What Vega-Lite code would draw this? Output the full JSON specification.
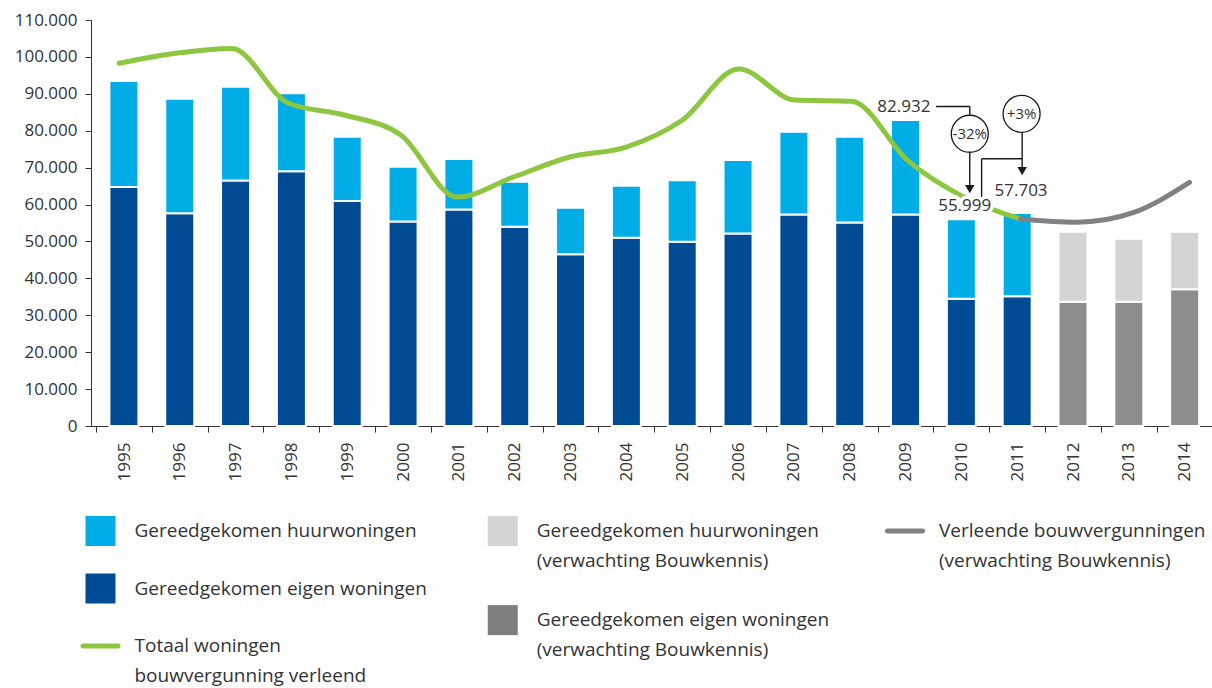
{
  "$schema": "https://vega.github.io/schema/vega-lite/v6.json",
  "width": 1121,
  "height": 406,
  "autosize": {"type": "none"},
  "padding": {"left": 91, "top": 20, "right": 0, "bottom": 262},
  "background": "white",
  "config": {"view": {"stroke": null}, "font": "Open Sans"},
  "datasets": {
    "bouw": [
      {"jaar": 1995, "eigen": 64760, "totaal": 93480, "verwachting": false},
      {"jaar": 1996, "eigen": 57620, "totaal": 88690, "verwachting": false},
      {"jaar": 1997, "eigen": 66520, "totaal": 91940, "verwachting": false},
      {"jaar": 1998, "eigen": 69000, "totaal": 90130, "verwachting": false},
      {"jaar": 1999, "eigen": 60960, "totaal": 78390, "verwachting": false},
      {"jaar": 2000, "eigen": 55410, "totaal": 70260, "verwachting": false},
      {"jaar": 2001, "eigen": 58660, "totaal": 72340, "verwachting": false},
      {"jaar": 2002, "eigen": 53970, "totaal": 66200, "verwachting": false},
      {"jaar": 2003, "eigen": 46510, "totaal": 59150, "verwachting": false},
      {"jaar": 2004, "eigen": 51020, "totaal": 65110, "verwachting": false},
      {"jaar": 2005, "eigen": 49900, "totaal": 66570, "verwachting": false},
      {"jaar": 2006, "eigen": 52160, "totaal": 72070, "verwachting": false},
      {"jaar": 2007, "eigen": 57300, "totaal": 79740, "verwachting": false},
      {"jaar": 2008, "eigen": 55140, "totaal": 78390, "verwachting": false},
      {"jaar": 2009, "eigen": 57300, "totaal": 82932, "verwachting": false},
      {"jaar": 2010, "eigen": 34460, "totaal": 55999, "verwachting": false},
      {"jaar": 2011, "eigen": 35140, "totaal": 57703, "verwachting": false},
      {"jaar": 2012, "eigen": 33680, "totaal": 52650, "verwachting": true},
      {"jaar": 2013, "eigen": 33680, "totaal": 50750, "verwachting": true},
      {"jaar": 2014, "eigen": 37040, "totaal": 52650, "verwachting": true}
    ],
    "vergunning": [
      {"jaar": 1995, "aantal": 98270, "reeks": "Totaal"},
      {"jaar": 1996, "aantal": 100980, "reeks": "Totaal"},
      {"jaar": 1997, "aantal": 102300, "reeks": "Totaal"},
      {"jaar": 1998, "aantal": 87510, "reeks": "Totaal"},
      {"jaar": 1999, "aantal": 84260, "reeks": "Totaal"},
      {"jaar": 2000, "aantal": 78840, "reeks": "Totaal"},
      {"jaar": 2001, "aantal": 62040, "reeks": "Totaal"},
      {"jaar": 2002, "aantal": 67460, "reeks": "Totaal"},
      {"jaar": 2003, "aantal": 72880, "reeks": "Totaal"},
      {"jaar": 2004, "aantal": 75590, "reeks": "Totaal"},
      {"jaar": 2005, "aantal": 82910, "reeks": "Totaal"},
      {"jaar": 2006, "aantal": 96730, "reeks": "Totaal"},
      {"jaar": 2007, "aantal": 88300, "reeks": "Totaal"},
      {"jaar": 2008, "aantal": 88000, "reeks": "Totaal"},
      {"jaar": 2009, "aantal": 71900, "reeks": "Totaal"},
      {"jaar": 2010, "aantal": 62000, "reeks": "Totaal"},
      {"jaar": 2011, "aantal": 56080, "reeks": "Totaal"},
      {"jaar": 2011, "aantal": 56080, "reeks": "Verwachting"},
      {"jaar": 2012, "aantal": 55200, "reeks": "Verwachting"},
      {"jaar": 2013, "aantal": 57800, "reeks": "Verwachting"},
      {"jaar": 2014, "aantal": 66000, "reeks": "Verwachting"}
    ],
    "lijnen": [
      {"x": 2009.5, "x2": 2010.1, "y": 86560, "y2": 86560},
      {"x": 2010.1, "x2": 2010.1, "y": 86560, "y2": 84045},
      {"x": 2010.1, "x2": 2010.1, "y": 74310, "y2": 64500},
      {"x": 2010.31, "x2": 2010.31, "y": 61945, "y2": 72415},
      {"x": 2010.31, "x2": 2011.03, "y": 72415, "y2": 72415},
      {"x": 2011.03, "x2": 2011.03, "y": 79450, "y2": 69500}
    ],
    "pijlpunten": [
      {"jaar": 2010.1, "waarde": 64160},
      {"jaar": 2011.03, "waarde": 69030}
    ],
    "cirkels": [
      {"jaar": 2010.1, "waarde": 79180, "tekst": "-32%"},
      {"jaar": 2011.02, "waarde": 84585, "tekst": "+3%"}
    ],
    "labels": [
      {"jaar": 2008.93, "waarde": 86560, "tekst": "82.932"},
      {"jaar": 2010.01, "waarde": 59700, "tekst": "55.999"},
      {"jaar": 2011.01, "waarde": 63570, "tekst": "57.703"}
    ],
    "legenda": [
      {"kolom": 0, "rij": 0, "soort": "vlak", "reeks": "huur", "label": "Gereedgekomen huurwoningen"},
      {"kolom": 0, "rij": 1, "soort": "vlak", "reeks": "eigen", "label": "Gereedgekomen eigen woningen"},
      {"kolom": 0, "rij": 2, "soort": "lijn", "reeks": "totaal", "label": "Totaal woningen\nbouwvergunning verleend"},
      {"kolom": 1, "rij": 0, "soort": "vlak", "reeks": "huur verwachting", "label": "Gereedgekomen huurwoningen\n(verwachting Bouwkennis)"},
      {"kolom": 1, "rij": 1.55, "soort": "vlak", "reeks": "eigen verwachting", "label": "Gereedgekomen eigen woningen\n(verwachting Bouwkennis)"},
      {"kolom": 2, "rij": 0, "soort": "lijn", "reeks": "vergunningen verwachting", "label": "Verleende bouwvergunningen\n(verwachting Bouwkennis)"}
    ]
  },
  "layer": [
    {
      "data": {"name": "bouw"},
      "mark": {"type": "bar", "orient": "vertical", "size": 29, "stroke": "white", "strokeWidth": 2},
      "encoding": {
        "x": {
          "field": "jaar", "type": "quantitative",
          "scale": {"domain": [1994.5, 2014.4], "nice": false, "zero": false},
          "axis": {
            "values": [1994.5, 1995.5, 1996.5, 1997.5, 1998.5, 1999.5, 2000.5, 2001.5, 2002.5, 2003.5, 2004.5, 2005.5, 2006.5, 2007.5, 2008.5, 2009.5, 2010.5, 2011.5, 2012.5, 2013.5],
            "labelExpr": "datum.value + 0.5",
            "labelAngle": -90, "labelAlign": "right", "labelBaseline": "middle",
            "labelOffset": 28, "tickSize": 6, "labelPadding": 10,
            "labelFontSize": 17, "labelFont": "Open Sans", "labelColor": "#333333",
            "domainColor": "#333333", "tickColor": "#333333", "grid": false, "title": null,
            "labelFlush": false, "labelOverlap": false
          }
        },
        "y": {
          "field": "eigen", "type": "quantitative",
          "scale": {"domain": [0, 110000], "nice": false, "zero": false},
          "axis": {
            "values": [0, 10000, 20000, 30000, 40000, 50000, 60000, 70000, 80000, 90000, 100000, 110000],
            "labelExpr": "replace(format(datum.value, ','), ',', '.')",
            "tickSize": 6, "labelPadding": 8,
            "labelFontSize": 17, "labelFont": "Open Sans", "labelColor": "#333333",
            "domainColor": "#333333", "tickColor": "#333333", "grid": false, "title": null,
            "labelOverlap": false, "labelFlush": false
          }
        },
        "color": {"condition": {"test": "datum.verwachting", "value": "#8e8d8e"}, "value": "#004b93"}
      }
    },
    {
      "data": {"name": "bouw"},
      "mark": {"type": "bar", "orient": "vertical", "size": 29, "stroke": "white", "strokeWidth": 2},
      "encoding": {
        "x": {"field": "jaar", "type": "quantitative", "scale": {"domain": [1994.5, 2014.4], "nice": false, "zero": false}, "axis": null},
        "y": {"field": "totaal", "type": "quantitative", "scale": {"domain": [0, 110000], "nice": false, "zero": false}, "axis": null},
        "y2": {"field": "eigen"},
        "color": {"condition": {"test": "datum.verwachting", "value": "#d4d4d4"}, "value": "#00ade6"}
      }
    },
    {
      "data": {"name": "vergunning"},
      "mark": {"type": "line", "interpolate": "monotone", "strokeWidth": 5, "strokeCap": "round", "strokeJoin": "round"},
      "encoding": {
        "x": {"field": "jaar", "type": "quantitative", "scale": {"domain": [1994.5, 2014.4], "nice": false, "zero": false}, "axis": null},
        "y": {"field": "aantal", "type": "quantitative", "scale": {"domain": [0, 110000], "nice": false, "zero": false}, "axis": null},
        "color": {"field": "reeks", "type": "nominal", "scale": {"domain": ["Totaal", "Verwachting"], "range": ["#8dc63f", "#808085"]}, "legend": null}
      }
    },
    {
      "data": {"name": "lijnen"},
      "mark": {"type": "rule", "color": "#1a1a1a", "strokeWidth": 1.4},
      "encoding": {
        "x": {"field": "x", "type": "quantitative", "scale": {"domain": [1994.5, 2014.4], "nice": false, "zero": false}, "axis": null},
        "x2": {"field": "x2"},
        "y": {"field": "y", "type": "quantitative", "scale": {"domain": [0, 110000], "nice": false, "zero": false}, "axis": null},
        "y2": {"field": "y2"}
      }
    },
    {
      "data": {"name": "pijlpunten"},
      "mark": {"type": "point", "shape": "triangle-down", "filled": true, "size": 90, "color": "#1a1a1a", "opacity": 1},
      "encoding": {
        "x": {"field": "jaar", "type": "quantitative", "scale": {"domain": [1994.5, 2014.4], "nice": false, "zero": false}, "axis": null},
        "y": {"field": "waarde", "type": "quantitative", "scale": {"domain": [0, 110000], "nice": false, "zero": false}, "axis": null}
      }
    },
    {
      "data": {"name": "cirkels"},
      "mark": {"type": "point", "shape": "circle", "size": 1369, "fill": "white", "stroke": "#1a1a1a", "strokeWidth": 1.3, "opacity": 1},
      "encoding": {
        "x": {"field": "jaar", "type": "quantitative", "scale": {"domain": [1994.5, 2014.4], "nice": false, "zero": false}, "axis": null},
        "y": {"field": "waarde", "type": "quantitative", "scale": {"domain": [0, 110000], "nice": false, "zero": false}, "axis": null}
      }
    },
    {
      "data": {"name": "cirkels"},
      "mark": {"type": "text", "fontSize": 15, "font": "Open Sans", "color": "#333333", "align": "center", "baseline": "middle"},
      "encoding": {
        "x": {"field": "jaar", "type": "quantitative", "scale": {"domain": [1994.5, 2014.4], "nice": false, "zero": false}, "axis": null},
        "y": {"field": "waarde", "type": "quantitative", "scale": {"domain": [0, 110000], "nice": false, "zero": false}, "axis": null},
        "text": {"field": "tekst"}
      }
    },
    {
      "data": {"name": "labels"},
      "mark": {"type": "text", "fontSize": 17, "font": "Open Sans", "color": "white", "stroke": "white", "strokeWidth": 7, "strokeJoin": "round", "align": "center", "baseline": "middle"},
      "encoding": {
        "x": {"field": "jaar", "type": "quantitative", "scale": {"domain": [1994.5, 2014.4], "nice": false, "zero": false}, "axis": null},
        "y": {"field": "waarde", "type": "quantitative", "scale": {"domain": [0, 110000], "nice": false, "zero": false}, "axis": null},
        "text": {"field": "tekst"}
      }
    },
    {
      "data": {"name": "labels"},
      "mark": {"type": "text", "fontSize": 17, "font": "Open Sans", "color": "#333333", "align": "center", "baseline": "middle"},
      "encoding": {
        "x": {"field": "jaar", "type": "quantitative", "scale": {"domain": [1994.5, 2014.4], "nice": false, "zero": false}, "axis": null},
        "y": {"field": "waarde", "type": "quantitative", "scale": {"domain": [0, 110000], "nice": false, "zero": false}, "axis": null},
        "text": {"field": "tekst"}
      }
    },
    {
      "data": {"name": "legenda"},
      "mark": {"type": "point", "filled": true, "size": 900, "opacity": 1},
      "encoding": {
        "x": {"field": "kolom", "type": "quantitative", "scale": {"domain": [0, 2], "range": [9.5, 814], "nice": false, "zero": false}, "axis": null},
        "y": {"field": "rij", "type": "quantitative", "scale": {"domain": [0, 2], "range": [511, 626], "nice": false, "zero": false}, "axis": null},
        "color": {
          "field": "reeks", "type": "nominal",
          "scale": {"domain": ["huur", "eigen", "totaal", "huur verwachting", "eigen verwachting", "vergunningen verwachting"], "range": ["#00ade6", "#004b93", "#8dc63f", "#d4d4d4", "#7f7e7f", "#808085"]},
          "legend": null
        },
        "shape": {
          "field": "soort", "type": "nominal",
          "scale": {"domain": ["vlak", "lijn"], "range": ["M-1,-1H1V1H-1Z", "M-1.17,-0.17H1.17A0.17,0.17 0 0 1 1.17,0.17H-1.17A0.17,0.17 0 0 1 -1.17,-0.17Z"]},
          "legend": null
        }
      }
    },
    {
      "data": {"name": "legenda"},
      "mark": {"type": "text", "align": "left", "baseline": "top", "dx": 34, "dy": -9, "fontSize": 19, "font": "Open Sans", "lineHeight": 30, "lineBreak": "\n", "color": "#333333"},
      "encoding": {
        "x": {"field": "kolom", "type": "quantitative", "scale": {"domain": [0, 2], "range": [9.5, 814], "nice": false, "zero": false}, "axis": null},
        "y": {"field": "rij", "type": "quantitative", "scale": {"domain": [0, 2], "range": [511, 626], "nice": false, "zero": false}, "axis": null},
        "text": {"field": "label"}
      }
    }
  ],
  "resolve": {"scale": {"x": "independent", "y": "independent", "color": "independent", "shape": "independent"}}
}
